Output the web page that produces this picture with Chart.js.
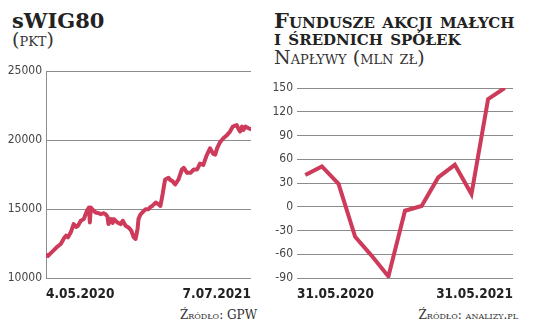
<!DOCTYPE html>
<html>
<head>
<meta charset="utf-8">
<script src="https://cdn.jsdelivr.net/npm/chart.js@4/dist/chart.umd.min.js"></script>
<style>
  body { margin: 0; width: 536px; height: 332px; background: #fff; position: relative; overflow: hidden; color: #222; font-family: 'DejaVu Serif', 'Liberation Serif', serif; }
  .title { position: absolute; top: 12px; font-weight: bold; font-size: 21px; line-height: 17px; font-variant: small-caps; }
  .sub { position: absolute; font-size: 19px; line-height: 18px; font-variant: small-caps; color: #333; }
  .src { position: absolute; top: 308px; font-size: 12px; font-variant: small-caps; color: #333; }
  .chart { position: absolute; top: 60px; width: 268px; height: 240px; }
</style>
</head>
<body>
<div class="title" style="left:12px; font-variant:normal">sWIG80</div>
<div class="sub" style="left:12px; top:30px">(pkt)</div>
<div class="title" style="left:274px">Fundusze akcji małych<br>i średnich spółek</div>
<div class="sub" style="left:274px; top:48px">Napływy (mln zł)</div>

<div class="chart" style="left:0"><canvas id="swigChart"></canvas></div>
<div class="chart" style="left:268px"><canvas id="fundChart"></canvas></div>

<div class="src" style="right:279px">Źródło: GPW</div>
<div class="src" style="right:18px">Źródło: analizy.pl</div>

<script>
// sWIG80 – calendar days since 4.05.2020 and index level (pkt)
const swigDays = [0, 4, 10, 17, 23, 31, 38, 42, 46, 52, 58, 63, 67, 73, 79, 86, 90, 92, 94, 98,
  104, 111, 115, 121, 125, 129, 131, 136, 140, 142, 146, 150, 157, 161, 167, 173, 179, 184, 188, 192,
  194, 198, 202, 209, 215, 219, 223, 230, 236, 240, 244, 248, 250, 257, 261, 265, 271, 278, 285, 289,
  296, 303, 310, 317, 323, 330, 337, 344, 351, 355, 359, 365, 372, 380, 386, 392, 400, 403, 407, 411,
  414, 418, 425, 430];
const swigValues = [11650, 11600, 11800, 12040, 12250, 12470, 12900, 13070, 12950, 13310, 13910, 13700, 13790, 14150, 14270, 14870, 15110, 14030, 15110, 14950,
  14750, 14700, 14630, 14700, 14630, 14450, 13910, 14270, 14000, 14270, 14150, 14030, 13910, 14150, 13790, 13670, 13430, 12950, 12830, 13550,
  14270, 14600, 14750, 14990, 14990, 15150, 15230, 15470, 15350, 15230, 15950, 16790, 17150, 17270, 17100, 17030, 16790, 17150, 17870, 17990,
  17630, 17630, 17870, 17870, 18300, 18200, 18900, 19400, 19000, 18950, 19420, 19850, 20140, 20380, 20620, 20980, 21100, 20860, 20620, 20980,
  20740, 20980, 20860, 20800];
const swigAxisLabels = ['4.05.2020', '7.07.2021'];

// fund inflows, mln zł, month ends 31.05.2020 .. 31.05.2021
const fundMonths = ['31.05.2020', '30.06.2020', '31.07.2020', '31.08.2020', '30.09.2020', '31.10.2020', '30.11.2020',
  '31.12.2020', '31.01.2021', '28.02.2021', '31.03.2021', '30.04.2021', '31.05.2021'];
const fundValues = [40, 51, 29, -38, -62, -88, -5, 1, 37, 53, 16, 136, 150];

const lineColor = '#cd3a5a';
const gridColor = '#8c8c8c';
const tickFont = { family: "'Liberation Sans Narrow', 'DejaVu Sans Condensed', sans-serif", size: 12 };
const dateFont = { family: "'Liberation Sans Narrow', 'DejaVu Sans Condensed', sans-serif", size: 13.5, weight: 'bold' };

function edgeTicks(min, max, labels) {
  return {
    afterBuildTicks: (scale) => { scale.ticks = [{ value: min }, { value: max }]; },
    ticks: {
      align: 'inner', maxRotation: 0, autoSkip: false, padding: 0,
      color: '#222', font: dateFont,
      callback: (v, i) => labels[i]
    }
  };
}

new Chart(document.getElementById('swigChart'), {
  type: 'line',
  data: {
    datasets: [{
      data: swigDays.map((d, i) => ({ x: d, y: swigValues[i] })),
      borderColor: lineColor,
      borderWidth: 4,
      pointRadius: 0,
      tension: 0,
      borderJoinStyle: 'round',
      borderCapStyle: 'round'
    }]
  },
  options: {
    responsive: true,
    maintainAspectRatio: false,
    animation: false,
    layout: { padding: { top: 9, right: 17, left: 0, bottom: 0 } },
    plugins: { legend: { display: false }, tooltip: { enabled: false } },
    scales: {
      x: Object.assign({
        type: 'linear', min: 0, max: 430,
        grid: { display: false },
        border: { display: false },
        afterFit: (s) => { s.height = 22; }
      }, edgeTicks(0, 430, swigAxisLabels)),
      y: {
        min: 10000, max: 25000,
        grid: { color: gridColor, lineWidth: 1, drawTicks: false },
        border: { display: true, color: gridColor, width: 1 },
        ticks: { stepSize: 5000, padding: 4, color: '#444', font: tickFont, callback: (v) => String(v) },
        afterFit: (s) => { s.width = 46; }
      }
    }
  }
});

new Chart(document.getElementById('fundChart'), {
  type: 'line',
  data: {
    datasets: [{
      data: fundValues.map((v, i) => ({ x: i, y: v })),
      borderColor: lineColor,
      borderWidth: 4,
      pointRadius: 0,
      tension: 0
    }]
  },
  options: {
    responsive: true,
    maintainAspectRatio: false,
    animation: false,
    layout: { padding: { top: 28, right: 23, left: 0, bottom: 0 } },
    plugins: { legend: { display: false }, tooltip: { enabled: false } },
    scales: {
      x: Object.assign({
        type: 'linear', min: -0.5, max: fundMonths.length - 0.5,
        grid: { display: false },
        border: { display: false },
        afterFit: (s) => { s.height = 22; }
      }, edgeTicks(-0.5, fundMonths.length - 0.5, [fundMonths[0], fundMonths[fundMonths.length - 1]])),
      y: {
        min: -90, max: 150,
        grid: { color: gridColor, lineWidth: 1, drawTicks: false },
        border: { display: false },
        ticks: { stepSize: 30, padding: 4, color: '#444', font: tickFont, callback: (v) => String(v) },
        afterFit: (s) => { s.width = 29; }
      }
    }
  }
});
</script>
</body>
</html>
